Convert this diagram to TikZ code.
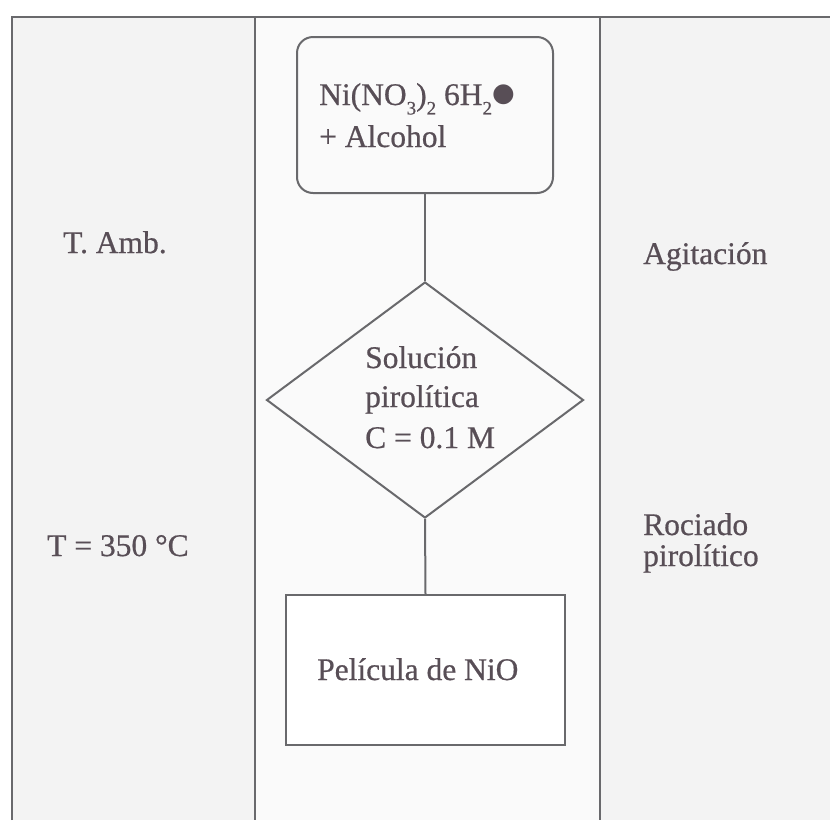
\documentclass[tikz,border=0pt]{standalone}
\usepackage{fontspec}
\setmainfont{Liberation Serif}
\newfontfamily\inkfont{Liberation Serif}[FakeBold=0.6]
\newfontfamily\dejavu{DejaVu Sans}
\usetikzlibrary{shapes.geometric}
\definecolor{inkc}{RGB}{88,78,86}
\definecolor{linec}{RGB}{105,105,108}
\definecolor{paper}{RGB}{243,243,243}
\definecolor{paperm}{RGB}{250,250,250}
\newcommand{\lowsub}[1]{\raisebox{-0.3em}{\fontsize{19}{20}\selectfont #1}}
\tikzset{
  lbl/.style={inner sep=0pt, text=inkc, font=\inkfont\fontsize{31.5}{38}\selectfont, anchor=base west},
  frameline/.style={draw=linec, line width=2pt},
  shapeline/.style={draw=linec, line width=2pt},
}
\begin{document}
\begin{tikzpicture}[x=1pt,y=-1pt]
\useasboundingbox (0,0) rectangle (830,820);
\fill[white] (0,0) rectangle (830,820);
\fill[paper] (12,17) rectangle (255,820);
\fill[paper] (600,17) rectangle (830,820);
\fill[paperm] (255,17) rectangle (600,820);
% frame
\draw[frameline] (12,820) -- (12,17) -- (830,17);
\draw[frameline] (255,17) -- (255,820);
\draw[frameline] (600,17) -- (600,820);
% shapes
\node[shapeline, fill=paperm, rounded corners=16pt, minimum width=256pt, minimum height=156pt, inner sep=0pt] (box) at (425,115) {};
\node[shapeline, fill=paperm, diamond, minimum width=317pt, minimum height=236pt, inner sep=0pt] (dia) at (425,400) {};
\node[shapeline, fill=white, minimum width=279pt, minimum height=150pt, inner sep=0pt] (film) at (425.5,670) {};
\draw[shapeline] (box.south) -- (dia.north);
\draw[shapeline] (dia.south) -- (film.north);
% texts in shapes
\node[lbl] (t1) at (319,105) {Ni(NO\lowsub{3})\lowsub{2} 6H\lowsub{2}\raisebox{0.1em}{\dejavu\fontsize{26}{30}\selectfont ●}};
\node[lbl] (t2) at (319,147) {+ Alcohol};
\node[lbl] (d1) at (365,368) {Solución};
\node[lbl] (d2) at (365,407) {pirolítica};
\node[lbl] (d3) at (365,448) {C = 0.1 M};
\node[lbl] (f1) at (317,680) {Película de NiO};
% side labels
\node[lbl] (l1) at (63,253) {T. Amb.};
\node[lbl] (l2) at (47,556) {T = 350 °C};
\node[lbl] (r1) at (643,264) {Agitación};
\node[lbl] (r2) at (643,535) {Rociado};
\node[lbl] (r3) at (643,566) {pirolítico};
\end{tikzpicture}
\end{document}
